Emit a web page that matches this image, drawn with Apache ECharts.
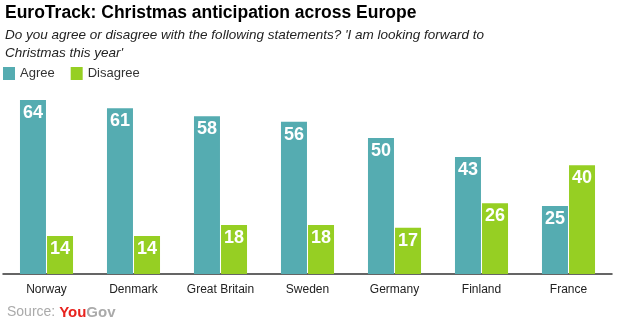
<!DOCTYPE html>
<html><head><meta charset="utf-8">
<script src="https://cdn.jsdelivr.net/npm/echarts@6/dist/echarts.min.js"></script>
<style>html,body{margin:0;padding:0;background:#fff}#c{width:619px;height:322px}</style>
</head><body><div id="c"></div>
<script>
const categories = ['Norway','Denmark','Great Britain','Sweden','Germany','Finland','France'];
const agree = [64,61,58,56,50,43,25];
const disagree = [14,14,18,18,17,26,40];
const FONT = '"Liberation Sans", Arial, sans-serif';
const chart = echarts.init(document.getElementById('c'));
const lbl = {show:true, position:'insideTop', distance:4, color:'#fff', fontWeight:'bold', fontSize:18, fontFamily:FONT};
chart.setOption({
  animation:false,
  title:[
    {text:'EuroTrack: Christmas anticipation across Europe', left:5, top:4, padding:0,
     textStyle:{fontFamily:FONT, fontWeight:'bold', fontSize:17.5, color:'#000'}},
    {text:"Do you agree or disagree with the following statements? 'I am looking forward to\nChristmas this year'", left:5, top:26, padding:0,
     textStyle:{fontFamily:FONT, fontStyle:'italic', fontWeight:'normal', fontSize:13.5, lineHeight:18, color:'#222'}},
    {text:'{s|Source: }{y|You}{g|Gov}', left:7, top:305, padding:0,
     textStyle:{fontWeight:'normal', rich:{
       s:{fontFamily:FONT, fontSize:14, fontWeight:'normal', color:'#aaa'},
       y:{fontFamily:FONT, fontSize:15, fontWeight:'bold', color:'#e8231e'},
       g:{fontFamily:FONT, fontSize:15, fontWeight:'bold', color:'#aaa'}}}}
  ],
  legend:{left:3, top:67, padding:0, itemWidth:12, itemHeight:13, itemGap:16, icon:'rect',
    textStyle:{fontFamily:FONT, fontSize:13, color:'#333'}},
  grid:{left:3, right:7, top:100, bottom:48, containLabel:false},
  xAxis:{type:'category', data:categories,
    axisLine:{lineStyle:{color:'#333', width:1.5}}, axisTick:{show:false},
    axisLabel:{interval:0, fontFamily:FONT, fontSize:12, color:'#222', margin:10}},
  yAxis:{type:'value', min:0, max:64, show:false, splitLine:{show:false}},
  series:[
    {name:'Agree', type:'bar', data:agree, barWidth:26, barGap:'4%', itemStyle:{color:'#55acb1'}, label:lbl},
    {name:'Disagree', type:'bar', data:disagree, barWidth:26, itemStyle:{color:'#96cf23'}, label:lbl}
  ]
});
</script></body></html>
